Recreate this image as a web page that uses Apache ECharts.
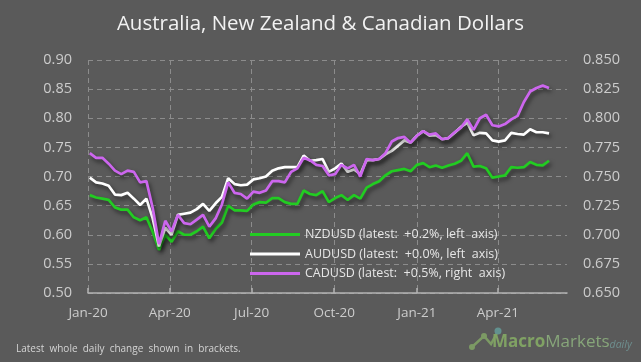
<!DOCTYPE html>
<html>
<head>
<meta charset="utf-8">
<script src="https://cdn.jsdelivr.net/npm/echarts@6/dist/echarts.min.js"></script>
<style>
html,body{margin:0;padding:0;background:#5a5a5a;}
#chart{width:641px;height:362px;}
</style>
</head>
<body>
<div id="chart"></div>
<script>
const dates = [
'2020-01-03','2020-01-10','2020-01-17','2020-01-24','2020-01-31','2020-02-07','2020-02-14','2020-02-21','2020-02-28',
'2020-03-06','2020-03-13','2020-03-20','2020-03-27','2020-04-03','2020-04-10','2020-04-17','2020-04-24','2020-05-01',
'2020-05-08','2020-05-15','2020-05-22','2020-05-29','2020-06-05','2020-06-12','2020-06-19','2020-06-26','2020-07-03',
'2020-07-10','2020-07-17','2020-07-24','2020-07-31','2020-08-07','2020-08-14','2020-08-21','2020-08-28','2020-09-04',
'2020-09-11','2020-09-18','2020-09-25','2020-10-02','2020-10-09','2020-10-16','2020-10-23','2020-10-30','2020-11-06',
'2020-11-13','2020-11-20','2020-11-27','2020-12-04','2020-12-11','2020-12-18','2020-12-25','2021-01-01','2021-01-08',
'2021-01-15','2021-01-22','2021-01-29','2021-02-05','2021-02-12','2021-02-19','2021-02-26','2021-03-05','2021-03-12',
'2021-03-19','2021-03-26','2021-04-02','2021-04-09','2021-04-16','2021-04-23','2021-04-30','2021-05-07','2021-05-14',
'2021-05-21','2021-05-28'
];
const nzdusd = [
0.668,0.664,0.662,0.660,0.647,0.643,0.643,0.630,0.625,
0.630,0.605,0.574,0.600,0.588,0.606,0.600,0.600,0.606,
0.614,0.594,0.610,0.621,0.650,0.642,0.642,0.641,0.652,
0.656,0.655,0.663,0.663,0.656,0.653,0.653,0.676,0.670,
0.668,0.675,0.656,0.663,0.668,0.660,0.668,0.662,0.681,
0.687,0.692,0.702,0.709,0.711,0.713,0.709,0.720,0.723,
0.716,0.719,0.715,0.719,0.722,0.727,0.740,0.717,0.718,
0.714,0.698,0.700,0.702,0.716,0.715,0.716,0.725,0.720,
0.719,0.727
];
const audusd = [
0.698,0.690,0.688,0.684,0.669,0.668,0.672,0.662,0.651,
0.662,0.628,0.580,0.612,0.600,0.634,0.636,0.638,0.644,
0.653,0.641,0.654,0.665,0.697,0.687,0.685,0.686,0.695,
0.697,0.700,0.710,0.714,0.716,0.716,0.716,0.736,0.727,
0.728,0.730,0.708,0.714,0.722,0.708,0.712,0.704,0.728,
0.728,0.730,0.738,0.744,0.753,0.762,0.758,0.770,0.778,
0.770,0.771,0.764,0.766,0.775,0.785,0.792,0.771,0.775,
0.774,0.762,0.760,0.762,0.775,0.773,0.772,0.781,0.776,
0.776,0.774
];
const cadusd = [
0.770,0.766,0.766,0.761,0.755,0.752,0.755,0.754,0.745,
0.746,0.723,0.692,0.712,0.703,0.717,0.710,0.709,0.713,
0.717,0.707,0.714,0.726,0.745,0.736,0.735,0.731,0.737,
0.736,0.738,0.746,0.746,0.745,0.754,0.757,0.766,0.764,
0.760,0.759,0.751,0.752,0.760,0.757,0.760,0.750,0.765,
0.764,0.765,0.770,0.780,0.783,0.784,0.779,0.785,0.789,
0.786,0.787,0.782,0.783,0.788,0.792,0.799,0.790,0.800,
0.803,0.794,0.793,0.795,0.799,0.802,0.814,0.823,0.826,
0.828,0.826
];
const seriesNames = [
'NZDUSD (latest:  +0.2%, left  axis)',
'AUDUSD (latest:  +0.0%, left  axis)',
'CADUSD (latest:  +0.5%, right  axis)'
];
const xTicks = ['2020-01-01','2020-04-01','2020-07-01','2020-10-01','2021-01-01','2021-04-01'];
const months = ['Jan','Feb','Mar','Apr','May','Jun','Jul','Aug','Sep','Oct','Nov','Dec'];

function toTs(s){ const p = s.split('-').map(Number); return Date.UTC(p[0], p[1]-1, p[2]); }
function pairs(vals){ return dates.map((d,i)=>[toTs(d), vals[i]]); }
const tickTs = xTicks.map(toTs);

const chart = echarts.init(document.getElementById('chart'));
const shadow = {shadowColor:'rgba(0,0,0,0.55)', shadowBlur:4, shadowOffsetX:2, shadowOffsetY:3};
const FONT = '"Open Sans", sans-serif';
chart.setOption({
  backgroundColor:'#5a5a5a',
  animation:false,
  textStyle:{fontFamily:FONT},
  title:{
    text:'Australia, New Zealand & Canadian Dollars',
    left:'center', top:9,
    textStyle:{color:'#f2f2f2', fontSize:20.5, fontWeight:'normal', fontFamily:FONT}
  },
  grid:{left:88, right:74, top:60, bottom:69, containLabel:false},
  legend:{
    orient:'vertical', left:245, top:223, itemWidth:50, itemHeight:3, itemGap:6.5,
    icon:'rect',
    textStyle:{color:'#e6e6e6', fontSize:12.5, fontFamily:FONT},
    data:seriesNames
  },
  xAxis:{
    type:'value',
    min:toTs('2020-01-01'), max:toTs('2021-06-17'),
    axisLine:{show:true, lineStyle:{color:'#b4b4b4', width:1.5}},
    axisTick:{show:true, inside:true, length:5, customValues:tickTs, lineStyle:{color:'#b4b4b4', width:1.5}},
    axisLabel:{
      customValues:tickTs, color:'#cccccc', fontSize:13.5, margin:13, fontFamily:FONT,
      formatter:function(v){ const d=new Date(v); return months[d.getUTCMonth()]+'-'+String(d.getUTCFullYear()).slice(2); }
    },
    splitLine:{show:true, lineStyle:{color:'#8c8c8c', type:[5,4], width:1}}
  },
  yAxis:[
    {
      type:'value', min:0.5, max:0.9, interval:0.05, position:'left',
      axisLine:{show:false}, axisTick:{show:false},
      axisLabel:{color:'#cccccc', fontSize:14.5, margin:16, formatter:v=>v.toFixed(2), fontFamily:FONT},
      splitLine:{show:true, lineStyle:{color:'#8c8c8c', type:[5,4], width:1}}
    },
    {
      type:'value', min:0.65, max:0.85, interval:0.025, position:'right',
      axisLine:{show:false}, axisTick:{show:false},
      axisLabel:{color:'#cccccc', fontSize:14.5, margin:16, formatter:v=>v.toFixed(3), fontFamily:FONT},
      splitLine:{show:false}
    }
  ],
  series:[
    {name:seriesNames[0], type:'line', yAxisIndex:0, data:pairs(nzdusd), showSymbol:false,
     itemStyle:{color:'#22cc22'}, lineStyle:Object.assign({color:'#22cc22', width:2.7}, shadow)},
    {name:seriesNames[1], type:'line', yAxisIndex:0, data:pairs(audusd), showSymbol:false,
     itemStyle:{color:'#ffffff'}, lineStyle:Object.assign({color:'#ffffff', width:2.7}, shadow)},
    {name:seriesNames[2], type:'line', yAxisIndex:1, data:pairs(cadusd), showSymbol:false,
     itemStyle:{color:'#cc66ee'}, lineStyle:Object.assign({color:'#cc66ee', width:2.7}, shadow)}
  ],
  graphic:[
    {type:'text', left:16, top:344, style:{text:'Latest  whole  daily  change  shown  in  brackets.', fill:'#d4d4d4', font:'10px "Open Sans", sans-serif'}},
    {type:'polyline', shape:{points:[[472,347],[484,336],[491,344],[498,331]]}, style:{stroke:'#7c9a64', lineWidth:2.5, fill:null}},
    {type:'circle', shape:{cx:472, cy:347, r:3}, style:{fill:'#7c9a64'}},
    {type:'circle', shape:{cx:484, cy:336, r:3}, style:{fill:'#7c9a64'}},
    {type:'circle', shape:{cx:498, cy:331, r:3.5}, style:{fill:'#62918f'}},
    {type:'text', left:492, top:334, style:{
      text:'{a|Macro}{b|Markets}{c|daily}',
      rich:{
        a:{fill:'#80a264', fontSize:17, fontWeight:'bold', fontFamily:FONT},
        b:{fill:'#87a67a', fontSize:17, fontFamily:FONT},
        c:{fill:'#6e8f8f', fontSize:10.5, fontStyle:'italic', fontFamily:FONT, padding:[6,0,0,0]}
      }
    }}
  ]
});
</script>
</body>
</html>
